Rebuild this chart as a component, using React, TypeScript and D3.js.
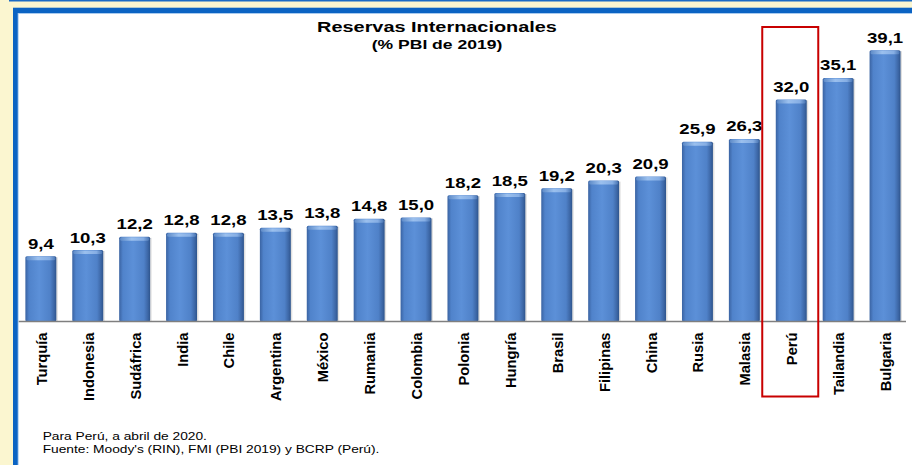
import React from "react";
import * as d3 from "d3";

const categories = [
  "Turquía", "Indonesia", "Sudáfrica", "India", "Chile", "Argentina", "México",
  "Rumania", "Colombia", "Polonia", "Hungría", "Brasil", "Filipinas", "China",
  "Rusia", "Malasia", "Perú", "Tailandia", "Bulgaria",
];
const values = [
  9.4, 10.3, 12.2, 12.8, 12.8, 13.5, 13.8, 14.8, 15.0, 18.2, 18.5, 19.2, 20.3,
  20.9, 25.9, 26.3, 32.0, 35.1, 39.1,
];
const highlighted = "Perú";
const titleText = "Reservas Internacionales";
const subtitleText = "(% PBI de 2019)";
const notes = [
  "Para Perú, a abril de 2020.",
  "Fuente: Moody's (RIN), FMI (PBI 2019) y BCRP (Perú).",
];

const W = 912;
const H = 465;
const FONT = "'Liberation Sans', Arial, Helvetica, sans-serif";

export default function App() {
  const x = d3
    .scaleBand<string>()
    .domain(categories)
    .range([17.4, 17.4 + 46.9 * categories.length])
    .paddingInner(0.34)
    .paddingOuter(0.17);
  const y = d3.scaleLinear().domain([0, 40]).range([321.5, 43.9]);
  const fmt = (v: number) => d3.format(".1f")(v).replace(".", ",");
  const bw = x.bandwidth();
  const hx = x(highlighted)! + bw / 2;

  return (
    <svg
      width={W}
      height={H}
      style={{ position: "absolute", left: 0, top: 0, display: "block" }}
      fontFamily={FONT}
    >
      <defs>
        <linearGradient id="barGrad" x1="0" x2="1" y1="0" y2="0">
          <stop offset="0" stopColor="#3A63A2" />
          <stop offset="0.12" stopColor="#5083CB" />
          <stop offset="0.45" stopColor="#5C90D8" />
          <stop offset="0.8" stopColor="#4F81C8" />
          <stop offset="0.93" stopColor="#3C66A5" />
          <stop offset="1" stopColor="#2D548C" />
        </linearGradient>
        <linearGradient id="capGrad" x1="0" x2="1" y1="0" y2="0">
          <stop offset="0" stopColor="#5E8BC8" />
          <stop offset="0.4" stopColor="#9BC0EE" />
          <stop offset="0.8" stopColor="#86AEE4" />
          <stop offset="1" stopColor="#4A76B4" />
        </linearGradient>
      </defs>
      {/* background */}
      <rect x={0} y={0} width={W} height={H} fill="#FBF6D0" />
      <rect x={9} y={0} width={W - 9} height={1.5} fill="#1A6AC4" />
      <rect x={13} y={7.7} width={W - 13} height={H - 7.7} fill="#0B63C3" />
      <rect x={17.7} y={13} width={W - 17.7} height={H - 13} fill="#A9CBEF" />
      <rect x={18.7} y={14} width={W - 18.7} height={H - 14} fill="#FFFFFF" />

      {/* title */}
      <text
        transform="translate(437,31.5) scale(1.3,1)"
        textAnchor="middle"
        fontWeight="bold"
        fontSize={15.3}
        fill="#000"
      >
        {titleText}
      </text>
      <text
        transform="translate(437,49) scale(1.3,1)"
        textAnchor="middle"
        fontWeight="bold"
        fontSize={13.5}
        fill="#000"
      >
        {subtitleText}
      </text>

      {/* bars */}
      {categories.map((c, i) => {
        const bx = x(c)!;
        const top = y(values[i]);
        const h = y(0) - top;
        return (
          <g key={c}>
            <rect x={bx + 1.5} y={top + 1} width={bw} height={h - 1} fill="#000" opacity={0.12} />
            <rect x={bx} y={top} width={bw} height={h} fill="url(#barGrad)" rx={1.5} />
            <rect x={bx + 1} y={top + 0.5} width={bw - 2} height={3.5} fill="url(#capGrad)" rx={1.5} />
            <text
              transform={`translate(${bx + bw / 2},${top - 7.5}) scale(1.3,1)`}
              textAnchor="middle"
              fontWeight="bold"
              fontSize={14.3}
              fill="#000"
            >
              {fmt(values[i])}
            </text>
            <text
              transform={`translate(${bx + bw / 2 + 0.8},332.5) rotate(-90)`}
              textAnchor="end"
              dy="0.35em"
              fontWeight="bold"
              fontSize={14.7}
              fill="#000"
            >
              {c}
            </text>
          </g>
        );
      })}

      {/* baseline */}
      <line x1={18.7} x2={906} y1={y(0)} y2={y(0)} stroke="#7F7F7F" strokeWidth={1.5} />

      {/* highlight box */}
      <rect
        x={hx - 29}
        y={27}
        width={56}
        height={369.5}
        fill="none"
        stroke="#C80000"
        strokeWidth={2}
      />

      {/* notes */}
      {notes.map((n, i) => (
        <text
          key={i}
          transform={`translate(42.7,${440 + i * 13}) scale(1.25,1)`}
          fontSize={11}
          fill="#000"
        >
          {n}
        </text>
      ))}
    </svg>
  );
}
